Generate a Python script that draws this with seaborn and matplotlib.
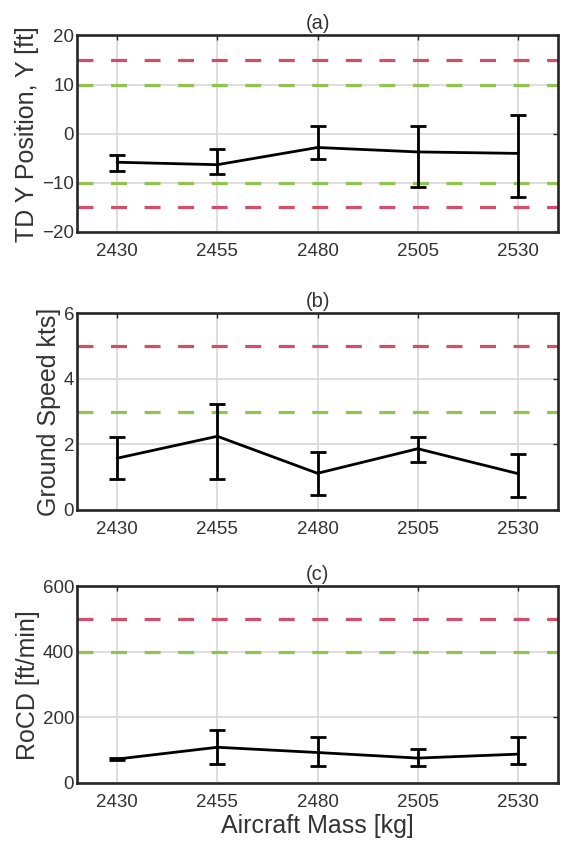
import numpy as np
import pandas as pd
import matplotlib
matplotlib.use("Agg")
import matplotlib.pyplot as plt
import seaborn as sns

# Aircraft mass cases [kg]
mass = [2430, 2455, 2480, 2505, 2530]

# (a) touchdown lateral position [ft]: mean and error-bar limits
td_y_mean = [-5.8, -6.3, -2.8, -3.7, -4.0]
td_y_low = [-7.5, -8.2, -5.2, -10.9, -12.9]
td_y_high = [-4.3, -3.1, 1.6, 1.6, 3.8]

# (b) ground speed [kts]
gs_mean = [1.58, 2.25, 1.12, 1.87, 1.11]
gs_low = [0.94, 0.94, 0.47, 1.46, 0.41]
gs_high = [2.24, 3.23, 1.76, 2.23, 1.70]

# (c) rate of climb/descent [ft/min]
rocd_mean = [73, 109, 93, 76, 88]
rocd_low = [70, 58, 52, 52, 58]
rocd_high = [76, 161, 140, 105, 140]

# limit lines: red = outer limit, green = inner limit
td_y_red = [15, -15]
td_y_green = [10, -10]
gs_red = [5]
gs_green = [3]
rocd_red = [500]
rocd_green = [400]

titles = ["(a)", "(b)", "(c)"]
ylabels = ["TD Y Position, Y [ft]", "Ground Speed kts]", "RoCD [ft/min]"]
yticks = [[-20, -10, 0, 10, 20], [0, 2, 4, 6], [0, 200, 400, 600]]

sns.set_theme(style="white")
plt.rcParams["font.family"] = ["Liberation Sans", "DejaVu Sans"]

RED = "#d0506c"
GREEN = "#92c250"
TEXT = "#333333"

fig = plt.figure(figsize=(5.63, 8.47), dpi=100)
left, width, height = 0.1368, 0.8544, 0.2320
bottoms = [0.7261, 0.3979, 0.0756]

panels = [
    (td_y_mean, td_y_low, td_y_high, td_y_red, td_y_green),
    (gs_mean, gs_low, gs_high, gs_red, gs_green),
    (rocd_mean, rocd_low, rocd_high, rocd_red, rocd_green),
]

for i, (mean, low, high, reds, greens) in enumerate(panels):
    ax = fig.add_axes([left, bottoms[i], width, height])
    df = pd.DataFrame({"mass": mass, "mean": mean, "low": low, "high": high})

    ax.grid(True, color="#d8d8d8", linewidth=1.2, zorder=0)
    ax.set_axisbelow(True)

    for v in reds:
        ax.axhline(v, color=RED, linewidth=2.3, dashes=(5, 5.5), zorder=2)
    for v in greens:
        ax.axhline(v, color=GREEN, linewidth=2.3, dashes=(5, 5.5), zorder=2)

    sns.lineplot(data=df, x="mass", y="mean", ax=ax, color="black",
                 linewidth=2.0, zorder=4)
    yerr = np.vstack([df["mean"] - df["low"], df["high"] - df["mean"]])
    ax.errorbar(df["mass"], df["mean"], yerr=yerr, fmt="none",
                ecolor="black", elinewidth=2.0, capsize=5.5, capthick=2.0,
                zorder=5)

    ax.set_xlim(2420, 2540)
    ax.set_xticks(mass)
    ax.set_ylim(yticks[i][0], yticks[i][-1])
    ax.set_yticks(yticks[i])

    ax.tick_params(axis="both", direction="in", length=3.5, width=1,
                   colors="#262626", labelcolor=TEXT, labelsize=13.5,
                   top=True, right=True)
    ax.tick_params(axis="x", pad=8)
    ax.tick_params(axis="y", pad=2)
    for sp in ax.spines.values():
        sp.set_visible(True)
        sp.set_color("#262626")
        sp.set_linewidth(1.9)

    ax.set_title(titles[i], fontsize=14.5, color=TEXT, pad=5)
    ax.set_ylabel(ylabels[i], fontsize=18, color=TEXT, labelpad=2)
    if i == 2:
        ax.set_xlabel("Aircraft Mass [kg]", fontsize=18, color=TEXT, labelpad=2)
    else:
        ax.set_xlabel("")

fig.savefig("out.png", dpi=100)
